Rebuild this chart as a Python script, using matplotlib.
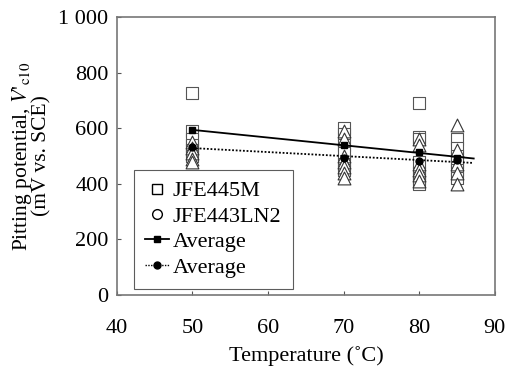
import numpy as np
import matplotlib.pyplot as plt
from matplotlib.lines import Line2D

plt.rcParams['font.family'] = ['Liberation Serif', 'DejaVu Serif']
plt.rcParams['mathtext.fontset'] = 'stix'

# individual measurements (mV vs. SCE)
temp_m = [50]*6 + [70]*6 + [80]*7 + [85]*6
vc_m = [727, 590, 560, 540, 520, 500,
        600, 580, 540, 510, 470, 450,
        690, 570, 560, 480, 440, 420, 400,
        560, 530, 500, 480, 450, 420]

temp_ln = [50]*5 + [70]*7 + [80]*6 + [85]*5
vc_ln = [550, 530, 510, 490, 480,
         590, 560, 500, 480, 460, 440, 420,
         560, 540, 470, 450, 430, 410,
         612, 520, 470, 440, 400]

# averages
avg_t = [50, 70, 80, 85]
avg_m = [593, 540, 515, 493]
avg_ln = [532, 493, 482, 485]

fig = plt.figure(figsize=(5.06, 3.81), dpi=100)
ax = fig.add_axes([0.231, 0.226, 0.747, 0.729])

ax.scatter(temp_m, vc_m, marker='s', s=70, facecolors='white', edgecolors='#555555', linewidths=0.8, zorder=2)
ax.scatter(temp_ln, vc_ln, marker='^', s=85, facecolors='white', edgecolors='#333333', linewidths=0.8, zorder=2)

# linear trends of the averages
tt = np.array([50, 87.2])
pm = np.polyfit(avg_t, avg_m, 1)
pl = np.polyfit(avg_t, avg_ln, 1)
ax.plot(tt, np.polyval(pm, tt), color='black', lw=1.3, zorder=3)
ax.plot(tt, np.polyval(pl, tt), color='black', lw=1.3, ls=(0, (1, 1)), zorder=3)
ax.plot(avg_t, avg_m, 's', color='black', ms=5, zorder=4)
ax.plot(avg_t, avg_ln, 'o', color='black', ms=5, zorder=4)

ax.set_xlim(40, 90)
ax.set_ylim(0, 1000)
ax.set_xticks([40, 50, 60, 70, 80, 90])
ax.set_yticks([0, 200, 400, 600, 800, 1000])
ax.set_yticklabels(['0', '200', '400', '600', '800', '1 000'])
ax.tick_params(direction='in', length=3, labelsize=16, color='#555555')
ax.tick_params(axis='x', pad=17)
ax.tick_params(axis='y', pad=6)
for s in ax.spines.values():
    s.set_color('#777777')
    s.set_linewidth(1.2)

ax.set_xlabel('Temperature (˚C)', fontsize=16, labelpad=6)
ax.set_ylabel("Pitting potential, $V$'$_{\\mathrm{c10}}$\n(mV vs. SCE)", fontsize=15.5,
              linespacing=0.85, labelpad=5)

handles = [
    Line2D([], [], ls='none', marker='s', mfc='white', mec='black', ms=7),
    Line2D([], [], ls='none', marker='o', mfc='white', mec='black', ms=7),
    Line2D([], [], color='black', lw=1.3, marker='s', ms=5),
    Line2D([], [], color='black', lw=1.0, ls=(0, (1, 1)), marker='o', ms=5),
]
labels = ['JFE445M', 'JFE443LN2', 'Average', 'Average']
leg = ax.legend(handles, labels, loc='lower left', bbox_to_anchor=(0.045, 0.022),
                fontsize=16, frameon=True, fancybox=False, edgecolor='#333333',
                handlelength=1.1, handletextpad=0.15, borderpad=0.5, labelspacing=0.22,
                borderaxespad=0)
leg.get_frame().set_linewidth(0.8)

fig.savefig('out.png', dpi=100)
